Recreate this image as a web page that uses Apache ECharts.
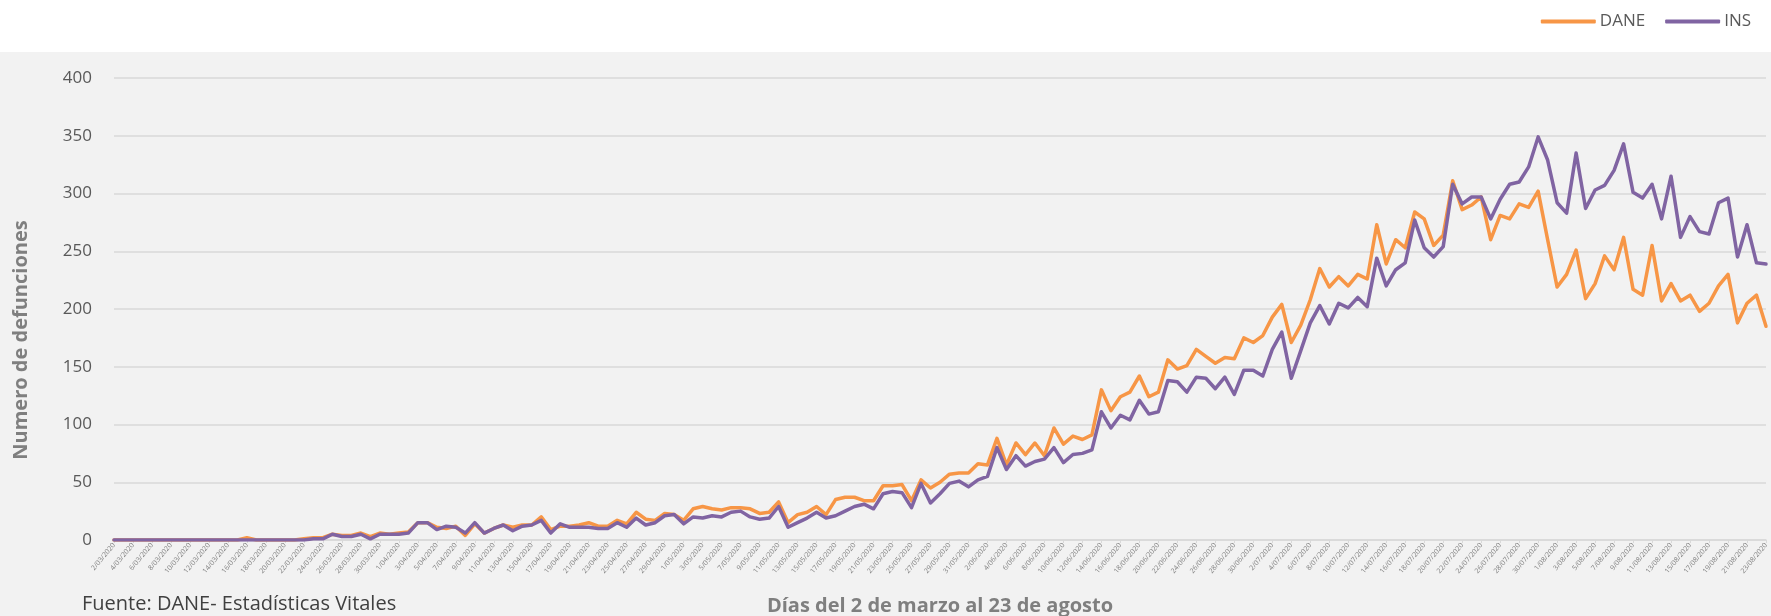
<!DOCTYPE html>
<html>
<head>
<meta charset="utf-8">
<script src="https://cdn.jsdelivr.net/npm/echarts@6/dist/echarts.min.js"></script>
<style>
  html, body { margin: 0; padding: 0; background: #f2f2f2; }
  #chart { width: 1771px; height: 616px; }
</style>
</head>
<body>
<div id="chart"></div>
<script>
// Daily deaths, 2 March – 23 August 2020
const monthCodes = ['03', '04', '05', '06', '07', '08'];
const monthFirstDay = [2, 1, 1, 1, 1, 1];
const monthLastDay = [31, 30, 31, 30, 31, 23];

const dane = [
  0, 0, 0, 0, 0, 0, 0, 0, 0, 0,
  0, 0, 0, 0, 2, 0, 0, 0, 0, 0,
  1, 2, 2, 5, 4, 4, 6, 3, 6, 5,
  6, 7, 15, 15, 11, 10, 12, 4, 14, 6,
  10, 13, 11, 13, 13, 20, 9, 12, 12, 13,
  15, 12, 12, 17, 14, 24, 18, 17, 23, 22,
  17, 27, 29, 27, 26, 28, 28, 27, 23, 24,
  33, 15, 22, 24, 29, 22, 35, 37, 37, 34,
  34, 47, 47, 48, 34, 52, 45, 50, 57, 58,
  58, 66, 65, 88, 65, 84, 74, 84, 73, 97,
  83, 90, 87, 91, 130, 112, 124, 128, 142, 124,
  128, 156, 148, 151, 165, 159, 153, 158, 157, 175,
  171, 177, 193, 204, 171, 186, 208, 235, 219, 228,
  220, 230, 226, 273, 239, 260, 253, 284, 278, 255,
  264, 311, 286, 290, 297, 260, 281, 278, 291, 288,
  302, 260, 219, 230, 251, 209, 222, 246, 234, 262,
  217, 212, 255, 207, 222, 207, 212, 198, 205, 220,
  230, 188, 205, 212, 185
];

const ins = [
  0, 0, 0, 0, 0, 0, 0, 0, 0, 0,
  0, 0, 0, 0, 0, 0, 0, 0, 0, 0,
  0, 1, 1, 5, 3, 3, 5, 1, 5, 5,
  5, 6, 15, 15, 9, 12, 11, 6, 15, 6,
  10, 13, 8, 12, 13, 17, 6, 14, 11, 11,
  11, 10, 10, 15, 11, 19, 13, 15, 21, 22,
  14, 20, 19, 21, 20, 24, 25, 20, 18, 19,
  29, 11, 15, 19, 24, 19, 21, 25, 29, 31,
  27, 40, 42, 41, 28, 49, 32, 40, 49, 51,
  46, 52, 55, 80, 61, 73, 64, 68, 70, 80,
  67, 74, 75, 78, 111, 97, 108, 104, 121, 109,
  111, 138, 137, 128, 141, 140, 131, 141, 126, 147,
  147, 142, 165, 180, 140, 164, 188, 203, 187, 205,
  201, 210, 202, 244, 220, 234, 240, 277, 253, 245,
  254, 308, 291, 297, 297, 278, 295, 308, 310, 323,
  349, 329, 292, 283, 335, 287, 303, 307, 320, 343,
  301, 296, 308, 278, 315, 262, 280, 267, 265, 292,
  296, 245, 273, 240, 239
];

const yTicks = [0, 50, 100, 150, 200, 250, 300, 350, 400];

// Day labels "d/MM/2020"
const days = [];
monthCodes.forEach((m, k) => {
  for (let d = monthFirstDay[k]; d <= monthLastDay[k]; d++) days.push(d + '/' + m + '/2020');
});

const FONT = '"Open Sans", "Segoe UI", sans-serif';
const chart = echarts.init(document.getElementById('chart'), null, { renderer: 'canvas' });

chart.setOption({
  backgroundColor: '#f2f2f2',
  animation: false,
  textStyle: { fontFamily: FONT },
  graphic: [
    { type: 'rect', z: -10, silent: true, shape: { x: 0, y: 0, width: 1771, height: 52 }, style: { fill: '#ffffff' } },
    {
      type: 'text', x: 21, y: 340, rotation: Math.PI / 2,
      style: { text: 'Numero de defunciones', fontFamily: FONT, fontWeight: 'bold', fontSize: 20,
               fill: '#7f7f7f', textAlign: 'center', textVerticalAlign: 'middle' }
    },
    {
      type: 'text', x: 940, y: 606,
      style: { text: 'Días del 2 de marzo al 23 de agosto', fontFamily: FONT, fontWeight: 'bold', fontSize: 20,
               fill: '#7f7f7f', textAlign: 'center', textVerticalAlign: 'middle' }
    },
    {
      type: 'text', x: 82, y: 604,
      style: { text: 'Fuente: DANE- Estadísticas Vitales', fontFamily: FONT, fontSize: 20,
               fill: '#404040', textAlign: 'left', textVerticalAlign: 'middle' }
    }
  ],
  legend: {
    right: 15, top: 8,
    icon: 'roundRect', itemWidth: 55, itemHeight: 4, itemGap: 20,
    textStyle: { fontFamily: FONT, fontSize: 17, color: '#595959', padding: [0, 0, 0, -1] },
    data: ['DANE', 'INS']
  },
  grid: { left: 114, right: 5, top: 78, bottom: 76, containLabel: false },
  xAxis: {
    type: 'category',
    data: days,
    boundaryGap: false,
    axisLine: { show: true, lineStyle: { color: '#d9d9d9', width: 1.5 } },
    axisTick: { show: true, interval: 1, length: 3, lineStyle: { color: '#d9d9d9' } },
    axisLabel: { interval: 1, rotate: 50, fontSize: 7, color: '#7f7f7f', margin: 4, fontFamily: FONT },
    splitLine: { show: false }
  },
  yAxis: {
    type: 'value',
    min: yTicks[0], max: yTicks[yTicks.length - 1], interval: yTicks[1] - yTicks[0],
    axisLine: { show: false },
    axisTick: { show: false },
    axisLabel: { fontSize: 17, color: '#595959', margin: 22, fontFamily: FONT },
    splitLine: { lineStyle: { color: '#d9d9d9', width: 1.5 } }
  },
  series: [
    {
      name: 'DANE', type: 'line', data: dane,
      showSymbol: false, symbol: 'none',
      lineStyle: { color: '#f79646', width: 3.5, cap: 'round', join: 'round' },
      itemStyle: { color: '#f79646' }
    },
    {
      name: 'INS', type: 'line', data: ins,
      showSymbol: false, symbol: 'none',
      lineStyle: { color: '#8064a2', width: 3.5, cap: 'round', join: 'round' },
      itemStyle: { color: '#8064a2' }
    }
  ]
});
</script>
</body>
</html>
